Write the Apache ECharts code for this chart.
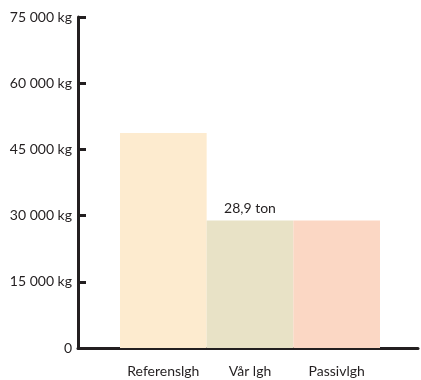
<!DOCTYPE html>
<html><head><meta charset="utf-8">
<script src="https://cdn.jsdelivr.net/npm/echarts@6/dist/echarts.min.js"></script>
<style>html,body{margin:0;padding:0;background:#fff}#c{width:421px;height:380px}</style>
</head><body><div id="c"></div>
<script>
const categories = ['Referenslgh', 'Vår lgh', 'Passivlgh'];
const values = [48700, 28900, 28900];
const barColors = ['#FDEBCF', '#E8E2C6', '#FBD7C4'];
const valueLabels = ['', '28,9 ton', ''];
const yTicks = [0, 15000, 30000, 45000, 60000, 75000];

const ink = '#231F20';
const font = 'Lato';
const chart = echarts.init(document.getElementById('c'));
chart.setOption({
  animation: false,
  grid: [
    {left: 78, right: 3, top: 17, bottom: 32},
    {left: 120, right: 41, top: 17, bottom: 32}
  ],
  xAxis: [
    {gridIndex: 0, type: 'category', data: [''], axisLine: {lineStyle: {color: ink, width: 3}},
     axisTick: {show: false}, axisLabel: {show: false}},
    {gridIndex: 1, type: 'category', data: categories, axisLine: {show: false}, axisTick: {show: false},
     axisLabel: {color: ink, fontFamily: font, fontSize: 14, margin: 16, interval: 0}}
  ],
  yAxis: [
    {gridIndex: 0, type: 'value', min: yTicks[0], max: yTicks[yTicks.length - 1], interval: 15000,
     axisLine: {show: true, lineStyle: {color: ink, width: 3}},
     axisTick: {show: true, inside: true, length: 8, lineStyle: {color: ink, width: 3}},
     splitLine: {show: false},
     axisLabel: {color: ink, fontFamily: font, fontSize: 14, margin: 6,
       formatter: v => v === 0 ? '0' : String(v).replace(/\B(?=(\d{3})+(?!\d))/g, ' ') + ' kg'}},
    {gridIndex: 1, type: 'value', min: yTicks[0], max: yTicks[yTicks.length - 1], interval: 15000, show: false}
  ],
  series: [{
    type: 'bar', xAxisIndex: 1, yAxisIndex: 1, barCategoryGap: 0,
    data: values.map((v, i) => ({
      value: v,
      itemStyle: {color: barColors[i]},
      label: {show: !!valueLabels[i], position: 'top', distance: 5, formatter: valueLabels[i],
              color: ink, fontFamily: font, fontSize: 14}
    }))
  }]
});
</script></body></html>
